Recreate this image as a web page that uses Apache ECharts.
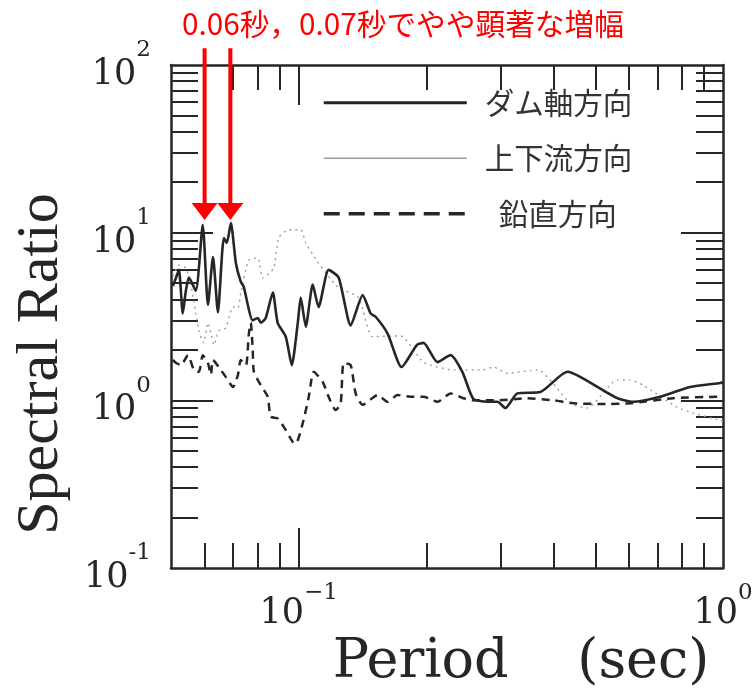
<!DOCTYPE html>
<html>
<head>
<meta charset="utf-8">
<script src="https://cdn.jsdelivr.net/npm/echarts@6/dist/echarts.min.js"></script>
<style>html,body{margin:0;padding:0;background:#fff}#c{width:755px;height:691px}</style>
</head>
<body>
<div id="c"></div>
<script>
// ---- data ----
const titleText = '0.06秒，0.07秒でやや顕著な増幅';
const seriesNames = ['ダム軸方向', '上下流方向', '鉛直方向'];

const damPeriod = [0.0505, 0.0514, 0.0522, 0.0533, 0.0542, 0.0551, 0.0572, 0.0594, 0.0611, 0.0628, 0.0645, 0.0666, 0.0677, 0.0692, 0.0711, 0.0730, 0.0742, 0.0779, 0.0801, 0.0814, 0.0836, 0.0869, 0.0892, 0.0932, 0.0963, 0.0995, 0.1011, 0.1039, 0.1079, 0.1114, 0.1176, 0.1242, 0.1326, 0.1415, 0.1477, 0.1518, 0.162, 0.1748, 0.190, 0.1969, 0.2124, 0.2279, 0.243, 0.258, 0.2784, 0.294, 0.307, 0.3276, 0.3711, 0.4296, 0.4608, 0.5632, 0.614, 0.7108, 0.8364, 0.984, 1.0];
const damRatio = [4.8, 5.4, 6.0, 3.3, 4.5, 5.4, 4.5, 11.1, 3.7, 7.15, 3.35, 9.3, 8.7, 11.4, 6.6, 5.1, 4.75, 3.0, 3.1, 2.9, 3.1, 4.4, 2.9, 2.4, 1.62, 2.9, 4.1, 2.75, 4.9, 3.6, 6.0, 5.4, 2.8, 4.25, 3.3, 3.15, 2.5, 1.58, 2.14, 2.2, 1.69, 1.86, 1.48, 1.02, 0.98, 0.98, 0.9, 1.1, 1.12, 1.48, 1.38, 1.03, 0.98, 1.05, 1.2, 1.27, 1.28];

const streamPeriod = [0.0505, 0.0522, 0.0542, 0.0557, 0.0582, 0.0597, 0.0611, 0.0621, 0.0631, 0.0648, 0.0673, 0.070, 0.0719, 0.0730, 0.0763, 0.0801, 0.0823, 0.0873, 0.0897, 0.0947, 0.1011, 0.1039, 0.1108, 0.1235, 0.1384, 0.1493, 0.1738, 0.1969, 0.2317, 0.2724, 0.2876, 0.310, 0.3651, 0.4365, 0.4786, 0.5632, 0.604, 0.6484, 0.7795, 0.850, 0.984, 1.0];
const streamRatio = [5.5, 6.4, 6.15, 4.9, 2.6, 2.2, 2.9, 2.5, 2.14, 2.6, 2.7, 3.6, 3.55, 4.36, 6.86, 7.06, 5.36, 6.15, 9.3, 10.4, 10.4, 8.7, 6.7, 4.75, 4.1, 2.4, 2.42, 1.69, 1.52, 1.52, 1.58, 1.45, 1.52, 0.96, 0.9, 1.32, 1.32, 1.23, 0.91, 0.84, 0.76, 0.75];

const vertPeriod = [0.0505, 0.0514, 0.0528, 0.0548, 0.0566, 0.0582, 0.0594, 0.0611, 0.0621, 0.0628, 0.0655, 0.0673, 0.070, 0.0719, 0.0730, 0.0751, 0.0763, 0.0771, 0.0779, 0.0784, 0.0814, 0.0845, 0.0859, 0.0892, 0.0932, 0.0968, 0.0984, 0.1022, 0.1056, 0.1085, 0.1139, 0.1176, 0.1222, 0.1256, 0.1276, 0.1326, 0.1362, 0.1415, 0.1534, 0.162, 0.171, 0.1834, 0.1969, 0.2124, 0.2279, 0.2444, 0.258, 0.294, 0.3458, 0.398, 0.4437, 0.5336, 0.604, 0.7628, 0.984, 1.0];
const vertRatio = [1.74, 1.67, 1.62, 1.86, 1.52, 1.48, 1.86, 1.67, 1.42, 1.74, 1.52, 1.38, 1.2, 1.42, 1.74, 1.62, 2.5, 2.9, 2.0, 1.48, 1.23, 1.05, 0.8, 0.78, 0.665, 0.564, 0.55, 0.73, 1.05, 1.48, 1.29, 1.05, 0.875, 0.96, 1.67, 1.62, 1.1, 0.94, 1.075, 0.98, 1.075, 1.05, 1.05, 0.98, 1.1, 1.03, 1.0, 1.0, 1.03, 1.0, 0.96, 0.95, 0.96, 1.03, 1.05, 1.05];

// annotation arrows: period, start ratio (above frame), tip ratio
const arrowPeriods = [0.06, 0.069];
const arrowFrom = 126;
const arrowTo = 11.9;

// axis ranges and ticks
const xMin = 0.05, xMax = 1;
const yMin = 0.1, yMax = 100;
const xMinorTicks = [0.06, 0.07, 0.08, 0.09, 0.2, 0.3, 0.4, 0.5, 0.6, 0.7, 0.8, 0.9];
const xMajorTicks = [0.1];
const xLabelValues = [0.1, 1];
const yMinorTicks = [0.2, 0.3, 0.4, 0.5, 0.6, 0.7, 0.8, 0.9, 2, 3, 4, 5, 6, 7, 8, 9, 20, 30, 40, 50, 60, 70, 80, 90];
const yMajorTicks = [1, 10];
const yLabelValues = [0.1, 1, 10, 100];
const xAxisName = 'Period    (sec)';
const yAxisName = 'Spectral Ratio';

// ---- chart ----
const zip = (a, b) => a.map((v, i) => [v, b[i]]);
const INK = '#262626';
const GRAY = '#9c9c9c';
const serif = 'DejaVu Serif';

const xRich = {
  b: { fontFamily: serif, fontSize: 35, lineHeight: 64, color: INK },
  s: { fontFamily: serif, fontSize: 23, lineHeight: 24, verticalAlign: 'top', color: INK }
};
const yRich = {
  b: { fontFamily: serif, fontSize: 35, lineHeight: 72, color: INK },
  s: { fontFamily: serif, fontSize: 23, lineHeight: 24, verticalAlign: 'top', color: INK }
};

function xAx(pos, ticks, len, showLine, extra) {
  return Object.assign({
    type: 'log', logBase: 10, min: xMin, max: xMax, position: pos,
    axisLine: { show: showLine, onZero: false, lineStyle: { color: INK, width: 2.5 } },
    axisTick: { show: true, inside: true, length: len, customValues: ticks, lineStyle: { color: INK, width: 2 } },
    axisLabel: { show: false },
    splitLine: { show: false }, minorTick: { show: false }, minorSplitLine: { show: false }
  }, extra || {});
}
function yAx(pos, ticks, len, showLine, extra) {
  return Object.assign({
    type: 'log', logBase: 10, min: yMin, max: yMax, position: pos,
    axisLine: { show: showLine, onZero: false, lineStyle: { color: INK, width: 2.5 } },
    axisTick: { show: true, inside: true, length: len, customValues: ticks, lineStyle: { color: INK, width: 2 } },
    axisLabel: { show: false },
    splitLine: { show: false }, minorTick: { show: false }, minorSplitLine: { show: false }
  }, extra || {});
}

const hiddenSymbol = { opacity: 0, color: 'rgba(0,0,0,0)', borderWidth: 0 };

const chart = echarts.init(document.getElementById('c'), null, { renderer: 'canvas' });
chart.setOption({
  animation: false,
  backgroundColor: '#fff',
  title: {
    text: titleText, left: 182, top: 9, padding: 0,
    textStyle: { color: '#ff0000', fontSize: 29.7, fontWeight: 'normal', fontFamily: 'Noto Sans CJK JP' }
  },
  legend: {
    orient: 'vertical', left: 322, top: 88, padding: 0, itemGap: 26,
    itemWidth: 143, itemHeight: 14, selectedMode: false,
    formatter: n => n === seriesNames[2] ? '{p|' + n + '}' : n,
    textStyle: {
      color: '#333', fontSize: 29.5, fontFamily: 'Noto Sans CJK JP', padding: [0, 0, 0, 13],
      rich: { p: { fontSize: 29.5, fontFamily: 'Noto Sans CJK JP', color: '#333', padding: [0, 0, 0, 14] } }
    },
    data: [
      { name: seriesNames[0], itemStyle: hiddenSymbol, lineStyle: { color: INK, width: 3, type: 'solid' } },
      { name: seriesNames[1], itemStyle: hiddenSymbol, lineStyle: { color: GRAY, width: 1.3, type: 'solid' } },
      { name: seriesNames[2], itemStyle: hiddenSymbol, lineStyle: { color: INK, width: 3.5, type: [16, 9] } }
    ]
  },
  grid: { left: 171, right: 32, top: 65, bottom: 123, containLabel: false, outerBoundsMode: 'none' },
  xAxis: [
    xAx('bottom', xMinorTicks, 25, true, {
      axisLabel: {
        show: true, customValues: xLabelValues, margin: 14,
        formatter: v => { const e = Math.round(Math.log10(v)); return '{b|10}{s|' + (e < 0 ? '\u2212' + (-e) : e) + '}'; },
        rich: xRich
      },
      name: xAxisName, nameLocation: 'middle', nameGap: 65,
      nameTextStyle: { fontFamily: serif, fontSize: 54, color: INK, padding: [0, 0, 0, 148] }
    }),
    xAx('bottom', xMajorTicks, 40, false),
    xAx('top', xMinorTicks, 25, true),
    xAx('top', xMajorTicks, 40, false)
  ],
  yAxis: [
    yAx('left', yMinorTicks, 27, true, {
      axisLabel: {
        show: true, customValues: yLabelValues, margin: 20, padding: [20, 0, 0, 0],
        formatter: v => { const e = Math.round(Math.log10(v)); return '{b|10}{s|' + (e < 0 ? '-' + (-e) : e) + '}'; },
        rich: yRich
      },
      name: yAxisName, nameLocation: 'middle', nameGap: 100, nameRotate: 90,
      nameTextStyle: { fontFamily: 'Liberation Serif', fontSize: 60, color: INK, padding: [0, 95, 0, 0] }
    }),
    yAx('left', yMajorTicks, 42, false),
    yAx('right', yMinorTicks, 27, true),
    yAx('right', yMajorTicks, 42, false)
  ],
  series: [
    {
      name: seriesNames[0], type: 'line', data: zip(damPeriod, damRatio),
      symbol: 'none', smooth: 0.2, z: 4,
      itemStyle: { color: INK }, lineStyle: { color: INK, width: 2.6 }
    },
    {
      name: seriesNames[1], type: 'line', data: zip(streamPeriod, streamRatio),
      symbol: 'none', smooth: 0.2, z: 2,
      itemStyle: { color: GRAY }, lineStyle: { color: GRAY, width: 1.4, type: [2, 4] }
    },
    {
      name: seriesNames[2], type: 'line', data: zip(vertPeriod, vertRatio),
      symbol: 'none', smooth: 0.2, z: 3,
      itemStyle: { color: INK }, lineStyle: { color: INK, width: 2.5, type: [8, 6] }
    },
    {
      name: 'arrows', type: 'custom', z: 10, clip: false, silent: true,
      data: arrowPeriods.map(p => [p, arrowFrom, arrowTo]),
      renderItem: (params, api) => {
        const a = api.coord([api.value(0), api.value(1)]);
        const t = api.coord([api.value(0), api.value(2)]);
        return {
          type: 'group', children: [
            { type: 'line', shape: { x1: a[0], y1: a[1], x2: t[0], y2: t[1] - 14 }, style: { stroke: '#ff0000', lineWidth: 4 } },
            { type: 'polygon', shape: { points: [[t[0] - 13, t[1] - 17], [t[0] + 13, t[1] - 17], [t[0], t[1]]] }, style: { fill: '#ff0000' } }
          ]
        };
      }
    }
  ]
});
</script>
</body>
</html>
